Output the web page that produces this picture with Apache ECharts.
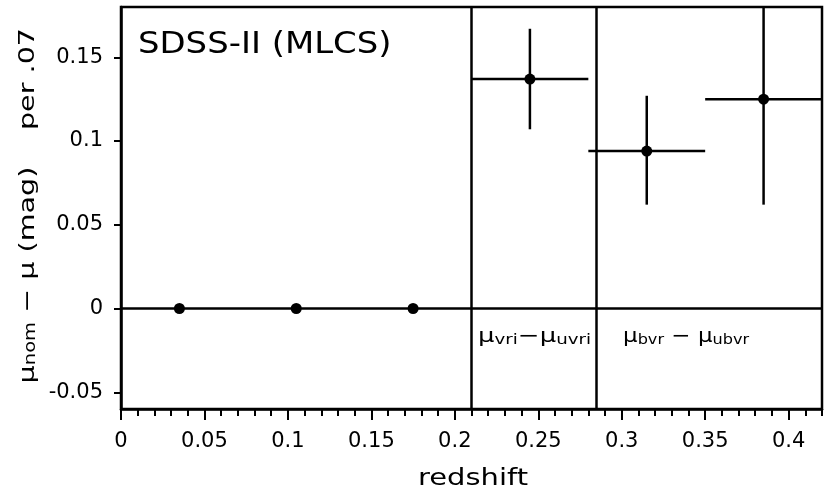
<!DOCTYPE html>
<html><head><meta charset="utf-8">
<script src="https://cdn.jsdelivr.net/npm/echarts@6/dist/echarts.min.js"></script>
<style>html,body{margin:0;padding:0;background:#fff}#c{width:827px;height:499px}</style>
</head><body><div id="c"></div>
<script>
// ---- data ----
const redshift = [0.035, 0.105, 0.175, 0.245, 0.315, 0.385];
const dmu      = [0, 0, 0, 0.137, 0.094, 0.125];
const zLow     = [0.035, 0.105, 0.175, 0.21, 0.28, 0.35];
const zHigh    = [0.035, 0.105, 0.175, 0.28, 0.35, 0.42];
const muLow    = [0, 0, 0, 0.107, 0.062, 0.062];
const muHigh   = [0, 0, 0, 0.167, 0.127, 0.188];
const dividers = [0.21, 0.285];
const xMajorTicks = [0, 0.05, 0.1, 0.15, 0.2, 0.25, 0.3, 0.35, 0.4];
const xMinorTicks = [0, 0.01, 0.02, 0.03, 0.04, 0.05, 0.06, 0.07, 0.08, 0.09, 0.1, 0.11, 0.12, 0.13, 0.14, 0.15, 0.16, 0.17, 0.18, 0.19, 0.2, 0.21, 0.22, 0.23, 0.24, 0.25, 0.26, 0.27, 0.28, 0.29, 0.3, 0.31, 0.32, 0.33, 0.34, 0.35, 0.36, 0.37, 0.38, 0.39, 0.4, 0.41, 0.42];
const yTicks = [-0.05, 0, 0.05, 0.1, 0.15];

const FONT = 'DejaVu Sans';
const LW = 2.5;
const chart = echarts.init(document.getElementById('c'));
const errData = redshift.map((z, i) => [z, dmu[i], zLow[i], zHigh[i], muLow[i], muHigh[i]]);
const subStyle = (fs) => ({ fontSize: fs, fontFamily: FONT, verticalAlign: 'bottom', lineHeight: fs, fill: '#000' });

chart.setOption({
  animation: false,
  backgroundColor: '#fff',
  grid: { left: 121, right: 5, top: 7, bottom: 90, show: true, borderColor: '#000', borderWidth: LW },
  xAxis: [{
    type: 'value', min: 0, max: 0.42, position: 'bottom',
    axisLine: { onZero: false, lineStyle: { color: '#000', width: LW } },
    axisTick: { customValues: xMinorTicks, length: 7, lineStyle: { color: '#000', width: 2 } },
    axisLabel: { customValues: xMajorTicks, margin: 22, color: '#000', fontFamily: FONT, fontSize: 21 },
    splitLine: { show: false }
  }, {
    type: 'value', min: 0, max: 0.42, position: 'bottom',
    axisLine: { show: false, onZero: false },
    axisTick: { customValues: xMajorTicks, length: 11, lineStyle: { color: '#000', width: 2 } },
    axisLabel: { show: false },
    splitLine: { show: false }
  }],
  yAxis: {
    type: 'value', min: -0.06, max: 0.18,
    axisLine: { onZero: false, lineStyle: { color: '#000', width: LW } },
    axisTick: { customValues: yTicks, length: 7, lineStyle: { color: '#000', width: 2 } },
    axisLabel: { customValues: yTicks, margin: 18, color: '#000', fontFamily: FONT, fontSize: 21 },
    splitLine: { show: false }
  },
  graphic: [
    { type: 'text', x: 138, y: 45, scaleX: 1.13,
      style: { text: 'SDSS-II (MLCS)', fontFamily: FONT, fontSize: 30, fill: '#000', verticalAlign: 'middle' } },
    { type: 'text', x: 473, y: 479, scaleX: 1.26,
      style: { text: 'redshift', fontFamily: FONT, fontSize: 23, fill: '#000', align: 'center', verticalAlign: 'middle' } },
    { type: 'text', x: 28, y: 275, rotation: Math.PI / 2, scaleX: 1.3,
      style: { text: 'μ{sub|nom} − μ (mag)', fontFamily: FONT, fontSize: 22, fill: '#000',
        align: 'center', verticalAlign: 'middle', rich: { sub: subStyle(15) } } },
    { type: 'text', x: 28, y: 79, rotation: Math.PI / 2, scaleX: 1.3,
      style: { text: 'per .07', fontFamily: FONT, fontSize: 22, fill: '#000',
        align: 'center', verticalAlign: 'middle' } },
    { type: 'text', x: 478, y: 337, scaleX: 1.3,
      style: { text: 'μ{sub|vri}−μ{sub|uvri}', fontFamily: FONT, fontSize: 20, fill: '#000', verticalAlign: 'middle',
        rich: { sub: subStyle(14) } } },
    { type: 'text', x: 623, y: 337, scaleX: 1.15,
      style: { text: 'μ{sub|bvr} − μ{sub|ubvr}', fontFamily: FONT, fontSize: 20, fill: '#000', verticalAlign: 'middle',
        rich: { sub: subStyle(14) } } }
  ],
  series: [{
    type: 'custom', xAxisIndex: 0, clip: true,
    data: errData,
    encode: { x: 0, y: 1 },
    renderItem: function (params, api) {
      const x = api.value(0), y = api.value(1);
      const h1 = api.coord([api.value(2), y]), h2 = api.coord([api.value(3), y]);
      const v1 = api.coord([x, api.value(4)]), v2 = api.coord([x, api.value(5)]);
      const st = { stroke: '#000', lineWidth: LW };
      return { type: 'group', children: [
        { type: 'line', shape: { x1: h1[0], y1: h1[1], x2: h2[0], y2: h2[1] }, style: st },
        { type: 'line', shape: { x1: v1[0], y1: v1[1], x2: v2[0], y2: v2[1] }, style: st }
      ] };
    }
  }, {
    type: 'scatter', xAxisIndex: 0,
    data: redshift.map((z, i) => [z, dmu[i]]),
    symbol: 'circle', symbolSize: 11,
    itemStyle: { color: '#000', opacity: 1 },
    markLine: {
      silent: true, symbol: 'none', precision: 4, label: { show: false },
      lineStyle: { color: '#000', width: LW, type: 'solid' },
      data: [{ yAxis: 0 }].concat(dividers.map(d => ({ xAxis: d })))
    }
  }]
});
</script></body></html>
